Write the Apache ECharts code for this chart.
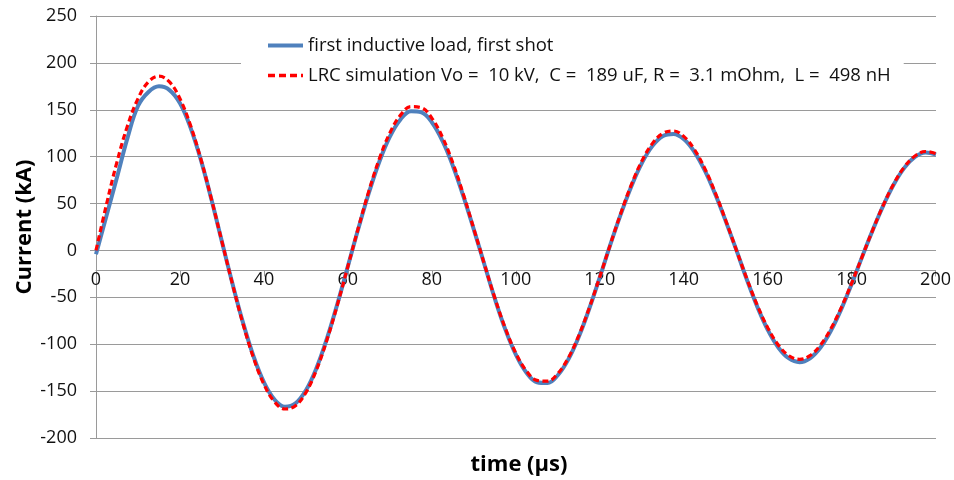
<!DOCTYPE html>
<html>
<head>
<meta charset="utf-8">
<script src="https://cdn.jsdelivr.net/npm/echarts@6/dist/echarts.min.js"></script>
<style>
  html, body { margin: 0; padding: 0; background: #fff; }
  #chart { width: 954px; height: 480px; }
</style>
</head>
<body>
<div id="chart"></div>
<script>
// time axis, every 2.5 us
const timeUs = [
  0, 2.5, 5, 7.5, 10, 12.5, 15, 17.5, 20, 22.5, 25, 27.5, 30, 32.5, 35, 37.5, 40, 42.5, 45, 47.5,
  50, 52.5, 55, 57.5, 60, 62.5, 65, 67.5, 70, 72.5, 75, 77.5, 80, 82.5, 85, 87.5, 90, 92.5, 95, 97.5,
  100, 102.5, 105, 107.5, 110, 112.5, 115, 117.5, 120, 122.5, 125, 127.5, 130, 132.5, 135, 137.5, 140, 142.5, 145, 147.5,
  150, 152.5, 155, 157.5, 160, 162.5, 165, 167.5, 170, 172.5, 175, 177.5, 180, 182.5, 185, 187.5, 190, 192.5, 195, 197.5, 200
]

const measuredKA = [
  -4, 37, 78, 120, 154, 169, 175, 171, 157, 131, 96, 54, 9, -35.5, -77, -112.8, -140.8, -159, -166.6, -163.1,
  -149, -125.4, -93.8, -56.6, -16.4, 23.9, 61.8, 95.1, 121.6, 139.7, 148.4, 147.2, 136.4, 116.7, 89.8, 57.4, 21.7, -15.3, -52, -84.7,
  -111.4, -130.4, -140.5, -141.4, -132.8, -115.8, -91.5, -61.4, -27.9, 6.7, 39.2, 68.8, 93.4, 111.5, 122, 124.3, 118.5, 104.9, 84.8, 59.3,
  30.5, 0, -31.5, -60.5, -85.1, -103.7, -115.2, -119.1, -115, -103.5, -85.4, -62, -34.9, -5.8, 22.3, 48.3, 70.8, 88.3, 99.7, 104.4, 102.3
]

// LRC simulation (kA)
const simulatedKA = [
  0, 49.2, 94.5, 132.9, 161.9, 179.9, 185.9, 179.7, 161.7, 133.4, 96.8, 54.4, 9.1, -36, -78.2, -114.5, -142.9, -161.4, -169.1, -165.6,
  -151.3, -127.3, -95.2, -57.5, -16.6, 24.7, 63.8, 98.2, 125.6, 144.3, 153.3, 152.1, 140.9, 120.6, 92.8, 59.3, 22.4, -15.1, -51.3, -83.5,
  -109.9, -128.6, -138.6, -139.4, -131, -114.2, -90.2, -60.6, -27.5, 6.9, 40.2, 70.5, 95.7, 114.2, 125, 127.4, 121.4, 107.5, 86.9, 60.8,
  31.2, 0, -30.7, -59, -82.9, -101.1, -112.3, -116.1, -112.1, -100.9, -83.2, -60.4, -34, -5.7, 22.5, 48.8, 71.5, 89.2, 100.7, 105.5, 103.3
]

const seriesNames = [
  'first inductive load, first shot',
  'LRC simulation Vo =  10 kV,  C =  189 uF, R =  3.1 mOhm,  L =  498 nH'
]

const font = '"Open Sans", "Liberation Sans", sans-serif'
const gridColor = '#9a9a9a'

// plot box in px; the time axis sits on the y = 0 line
const plotTop = 16, plotBottom = 42
const yMin = -200, yMax = 250
const zeroY = plotTop + (yMax / (yMax - yMin)) * (480 - plotTop - plotBottom)

const chart = echarts.init(document.getElementById('chart'), null, { renderer: 'canvas' })

chart.setOption({
  animation: false,
  textStyle: { fontFamily: font },
  grid: [
    { left: 96, right: 18, top: plotTop, bottom: plotBottom },
    // thin strip under the zero line, only to carry the time axis
    { left: 96, right: 18, top: zeroY, height: 20 }
  ],
  legend: {
    orient: 'vertical',
    left: 241,
    top: 30,
    padding: [6, 13, 6, 25],
    itemGap: 11,
    itemWidth: 35,
    itemHeight: 1,
    backgroundColor: '#fff',
    textStyle: { fontFamily: font, fontSize: 18.5, color: '#111' },
    data: [
      { name: seriesNames[0], lineStyle: { width: 4 } },
      { name: seriesNames[1], lineStyle: { width: 3.5, type: [7, 4] } }
    ]
  },
  xAxis: [
    {
      type: 'value', gridIndex: 0,
      min: 0, max: 200, interval: 20,
      show: false
    },
    {
      type: 'value', gridIndex: 1,
      min: 0, max: 200, interval: 20,
      position: 'top',
      axisLine: { show: true, lineStyle: { color: gridColor, width: 1 } },
      axisTick: { show: true, inside: true, length: 6, lineStyle: { color: gridColor } },
      axisLabel: { inside: true, fontFamily: font, fontSize: 18, color: '#111', margin: 20 },
      splitLine: { show: false }
    }
  ],
  yAxis: [
    {
      type: 'value', gridIndex: 0,
      min: yMin, max: yMax, interval: 50,
      name: 'Current (kA)',
      nameLocation: 'middle',
      nameGap: 60,
      nameMoveOverlap: false,
      nameTextStyle: { fontFamily: font, fontSize: 22, fontWeight: 'bold', color: '#000' },
      axisLine: { show: true, onZero: false, lineStyle: { color: gridColor, width: 1 } },
      axisTick: { show: true, length: 6, lineStyle: { color: gridColor } },
      axisLabel: { fontFamily: font, fontSize: 18, color: '#111', margin: 19 },
      splitLine: { show: true, lineStyle: { color: gridColor, width: 1 } }
    },
    { type: 'value', gridIndex: 1, show: false }
  ],
  graphic: [{
    type: 'text',
    x: 519,
    y: 465,
    style: { text: 'time (μs)', font: 'bold 22px ' + font, fill: '#000', align: 'center', verticalAlign: 'middle' }
  }],
  series: [
    {
      name: seriesNames[0],
      type: 'line',
      data: timeUs.map((t, i) => [t, measuredKA[i]]),
      symbol: 'none',
      smooth: 0.4,
      z: 3,
      lineStyle: { color: '#4f81bd', width: 4 },
      itemStyle: { color: '#4f81bd' }
    },
    {
      name: seriesNames[1],
      type: 'line',
      data: timeUs.map((t, i) => [t, simulatedKA[i]]),
      symbol: 'none',
      smooth: 0.4,
      z: 4,
      lineStyle: { color: '#ff0000', width: 3.2, type: [6, 3.5] },
      itemStyle: { color: '#ff0000' }
    }
  ]
})
</script>
</body>
</html>
